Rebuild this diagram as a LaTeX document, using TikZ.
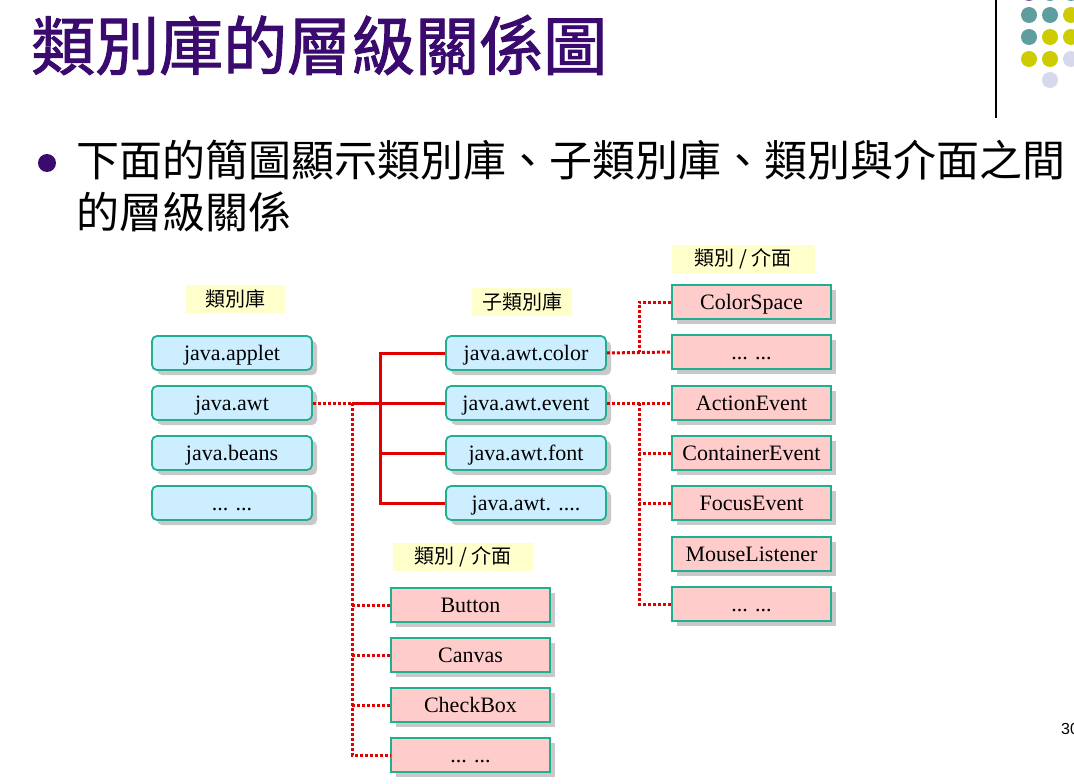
\documentclass[tikz,border=0pt]{standalone}
\usepackage{fontspec}
\setmainfont{Liberation Serif}
\newfontfamily\cjk{Noto Sans CJK TC}
\newfontfamily\cjktitle[FakeBold=1.5]{Noto Sans CJK TC}
\newfontfamily\sansf{Liberation Sans}
\usetikzlibrary{shadows}
\definecolor{titlepurple}{HTML}{3A0A6E}
\definecolor{boxblue}{HTML}{CCEEFF}
\definecolor{boxgreen}{HTML}{20B090}
\definecolor{boxpink}{HTML}{FFCCCC}
\definecolor{labyellow}{HTML}{FFFFCC}
\definecolor{linered}{HTML}{E00000}
\definecolor{dotteal}{HTML}{5F9EA0}
\definecolor{dotyellow}{HTML}{CCCC00}
\definecolor{dotlav}{HTML}{D8D8EC}
\definecolor{shadowgray}{HTML}{C8C8C8}
\tikzset{
  boxshadow/.style={general shadow={fill=shadowgray, shadow xshift=5pt, shadow yshift=-5pt}},
  pkg/.style={draw=boxgreen, line width=1.8pt, fill=boxblue, rounded corners=5pt,
    minimum width=160pt, minimum height=34pt, inner sep=0pt,
    text height=17pt, text depth=3pt,
    font=\fontsize{22}{22}\selectfont, boxshadow},
  cls/.style={draw=boxgreen, line width=1.8pt, fill=boxpink,
    minimum width=159pt, minimum height=34pt, inner sep=0pt,
    text height=17pt, text depth=3pt,
    font=\fontsize{22}{22}\selectfont, boxshadow},
  lab/.style={fill=labyellow, inner sep=0pt, minimum height=28pt,
    font=\cjk\fontsize{20}{20}\selectfont},
  redsolid/.style={draw=linered, line width=3pt},
  reddot/.style={draw=linered, line width=3pt, dash pattern=on 3pt off 2pt},
  deco/.style={circle, inner sep=0pt, minimum size=16pt},
}
\begin{document}
\begin{tikzpicture}[x=1pt,y=-1pt]
\useasboundingbox (0,0) rectangle (1074,784);
\fill[white] (0,0) rectangle (1074,784);

% top-right decoration
\draw[line width=1.2pt] (996,0) -- (996,118);
\node[deco, fill=titlepurple!70] (g01) at (1029,-7) {};
\node[deco, fill=dotteal] (g02) at (1050,-7) {};
\node[deco, fill=dotteal] (g03) at (1071,-7) {};
\node[deco, fill=dotteal] (g11) at (1029,15) {};
\node[deco, fill=dotteal] (g12) at (1050,15) {};
\node[deco, fill=dotyellow] (g13) at (1071,15) {};
\node[deco, fill=dotteal] (g21) at (1029,37) {};
\node[deco, fill=dotyellow] (g22) at (1050,37) {};
\node[deco, fill=dotyellow] (g23) at (1071,37) {};
\node[deco, fill=dotyellow] (g31) at (1029,59) {};
\node[deco, fill=dotyellow] (g32) at (1050,59) {};
\node[deco, fill=dotlav] (g33) at (1071,59) {};
\node[deco, fill=dotlav] (g42) at (1050,80) {};

% title and text
\node[anchor=west, inner sep=0pt, text=titlepurple, font=\cjktitle\fontsize{64}{64}\selectfont] (title) at (31,45) {類別庫的層級關係圖};
\node[circle, fill=titlepurple, inner sep=0pt, minimum size=18pt] (bullet) at (47,163) {};
\node[anchor=west, inner sep=0pt, font=\cjk\fontsize{43}{43}\selectfont] (line1) at (76,160) {下面的簡圖顯示類別庫、子類別庫、類別與介面之間};
\node[anchor=west, inner sep=0pt, font=\cjk\fontsize{43}{43}\selectfont] (line2) at (76,212) {的層級關係};

% labels
\node[lab, minimum width=99pt] (lab1) at (235,299) {類別庫};
\node[lab, minimum width=100pt] (lab2) at (522,302) {子類別庫};
\node[lab, minimum width=143pt] (lab3) at (743,259) {類別 / 介面};
\node[lab, minimum width=140pt] (lab4) at (463,557) {類別 / 介面};

% left column
\node[pkg] (a1) at (232,353) {java.applet};
\node[pkg] (a2) at (232,403) {java.awt};
\node[pkg] (a3) at (232,453) {java.beans};
\node[pkg] (a4) at (232,503) {... ...};

% middle column
\node[pkg] (b1) at (526,353) {java.awt.color};
\node[pkg] (b2) at (526,403) {java.awt.event};
\node[pkg] (b3) at (526,453) {java.awt.font};
\node[pkg] (b4) at (526,503) {java.awt. ....};

% right column
\node[cls] (c1) at (751.5,302) {ColorSpace};
\node[cls] (c2) at (751.5,352) {... ...};
\node[cls] (c3) at (751.5,403) {ActionEvent};
\node[cls] (c4) at (751.5,453) {ContainerEvent};
\node[cls] (c5) at (751.5,503) {FocusEvent};
\node[cls] (c6) at (751.5,554) {MouseListener};
\node[cls] (c7) at (751.5,604) {... ...};

% bottom column
\node[cls] (d1) at (470.5,605) {Button};
\node[cls] (d2) at (470.5,655) {Canvas};
\node[cls] (d3) at (470.5,705) {CheckBox};
\node[cls] (d4) at (470.5,755) {... ...};

% junction coordinates
\coordinate (j1) at (352,403);
\coordinate (t1) at (380,353);
\coordinate (t4) at (380,503);
\coordinate (rx) at (639,0);

% connectors: java.awt -> subpackages
\draw[reddot] (a2.east) -- (j1);
\draw[redsolid] (j1) -- (b2.west);
\draw[redsolid] (b1.west) -- (t1) -- (t4) -- (b4.west);
\draw[redsolid] (b3.west) -- (b3.west -| t1);

% java.awt -> classes
\draw[reddot] (j1) |- (d4.west);
\draw[reddot] (d1.west) -- (d1.west -| j1);
\draw[reddot] (d2.west) -- (d2.west -| j1);
\draw[reddot] (d3.west) -- (d3.west -| j1);

% java.awt.color -> classes
\draw[reddot] (b1.east) -- (c2.west);
\draw[reddot] (c1.west) -| (c2.west -| rx);

% java.awt.event -> classes
\draw[reddot] (b2.east) -- (c3.west);
\draw[reddot] (c3.west -| rx) |- (c7.west);
\draw[reddot] (c4.west) -- (c4.west -| rx);
\draw[reddot] (c5.west) -- (c5.west -| rx);

% page number
\node[anchor=west, inner sep=0pt, font=\sansf\fontsize{16}{16}\selectfont] (pn) at (1061,729) {30};
\end{tikzpicture}
\end{document}
